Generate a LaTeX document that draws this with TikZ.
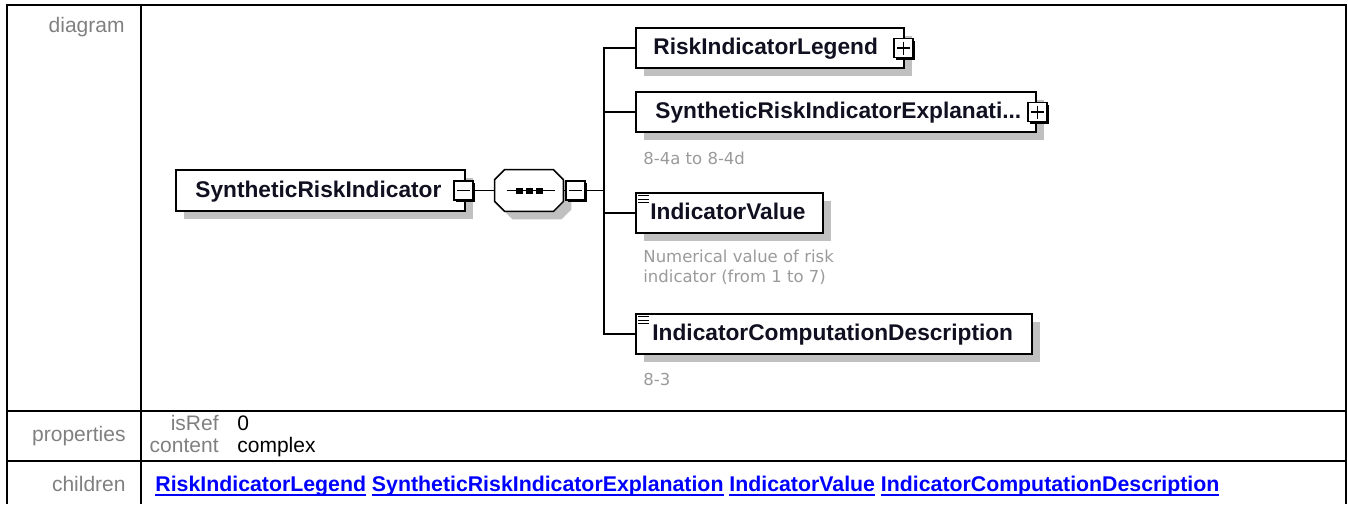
\documentclass[tikz,border=0pt]{standalone}
\usepackage{fontspec}
\setmainfont{Liberation Sans}
\newfontfamily\annfont{DejaVu Sans}
\usetikzlibrary{shadows,calc}
\definecolor{lblgray}{HTML}{808080}
\definecolor{anngray}{HTML}{9A9A9A}
\definecolor{shadowgray}{HTML}{C0C0C0}
\definecolor{linkblue}{HTML}{0000FF}
\definecolor{elemtext}{HTML}{101020}
\newcommand\mylink[1]{\setbox0\hbox{#1}\rlap{\color{linkblue}\vrule height -1.3pt depth 2.4pt width \wd0}\box0\relax}
\begin{document}
\begin{tikzpicture}[x=0.5pt,y=-0.5pt,
  elem/.style={draw=black, line width=0.75pt, fill=white, minimum height=20pt, inner sep=0, anchor=west,
    drop shadow={shadow xshift=4pt, shadow yshift=-4pt, fill=shadowgray, opacity=1}},
  etext/.style={font=\fontsize{11.35}{13}\selectfont\bfseries, text=elemtext, inner sep=0, anchor=base west},
  tog/.style={draw=black, line width=0.85pt, fill=white, minimum size=9.5pt, inner sep=0,
    drop shadow={shadow xshift=1.2pt, shadow yshift=-1.2pt, fill=black, opacity=1}},
  sign/.style={line width=0.9pt},
  conn/.style={line width=0.75pt},
  ann/.style={font=\annfont\fontsize{8.25}{10}\selectfont, text=anngray, inner sep=0, anchor=base west},
  lbl/.style={font=\fontsize{10.5}{12}\selectfont, text=lblgray, inner sep=0, anchor=base east},
  val/.style={font=\fontsize{10.5}{12}\selectfont, inner sep=0, anchor=base west},
  grid/.style={line width=1.1pt},
  icon/.style={line width=0.55pt}
]
\useasboundingbox (0,0) rectangle (1348,504);

% table
\draw[grid] (7,504) -- (7,5) -- (1346,5) -- (1346,504);
\draw[grid] (140.7,5) -- (140.7,504);
\draw[grid] (7,411) -- (1346,411);
\draw[grid] (7,461) -- (1346,461);

\node[lbl] (ldiag) at (125,32) {diagram};
\node[lbl] (lprop) at (126,441) {properties};
\node[lbl] (lchild) at (126,491) {children};

\node[lbl] (pisref) at (219,430) {isRef};
\node[lbl] (pcont) at (219,452) {content};
\node[val] (visref) at (237,430) {0};
\node[val] (vcont) at (237,452) {complex};

\node[font=\fontsize{10.65}{12}\selectfont\bfseries, text=linkblue, inner sep=0, anchor=base west] (links) at (155,491)
  {\mylink{RiskIndicatorLegend} \mylink{SyntheticRiskIndicatorExplanation} \mylink{IndicatorValue} \mylink{IndicatorComputationDescription}};

% main element
\node[elem, minimum width=144.5pt, minimum height=20.5pt] (main) at (175,190.5) {};
\node[etext] (maint) at (195,197) {SyntheticRiskIndicator};

% sequence compositor
\node[minimum width=34pt, minimum height=20.5pt, inner sep=0] (seq) at (529,190.5) {};
\fill[shadowgray] ($(seq.north west)+(18,8)$) -- ($(seq.north east)+(-2,8)$) -- ($(seq.north east)+(8,18)$)
  -- ($(seq.south east)+(8,-2)$) -- ($(seq.south east)+(-2,8)$) -- ($(seq.south west)+(18,8)$)
  -- ($(seq.south west)+(8,-2)$) -- ($(seq.north west)+(8,18)$) -- cycle;
\draw[line width=0.75pt, fill=white] ($(seq.north west)+(10,0)$) -- ($(seq.north east)+(-10,0)$) -- ($(seq.north east)+(0,10)$)
  -- ($(seq.south east)+(0,-10)$) -- ($(seq.south east)+(-10,0)$) -- ($(seq.south west)+(10,0)$)
  -- ($(seq.south west)+(0,-10)$) -- ($(seq.north west)+(0,10)$) -- cycle;
\draw[line width=0.75pt] ($(seq.west)+(12,0)$) -- ($(seq.east)+(-8,0)$);
\fill ($(seq.west)+(21,-3)$) rectangle ($(seq.west)+(28,3)$);
\fill ($(seq.west)+(31,-3)$) rectangle ($(seq.west)+(38,3)$);
\fill ($(seq.west)+(41,-3)$) rectangle ($(seq.west)+(48,3)$);

% children
\node[elem, minimum width=134pt] (c1) at (635,48) {};
\node[etext] (c1t) at (653,54.5) {RiskIndicatorLegend};
\node[elem, minimum width=200pt] (c2) at (635,112) {};
\node[etext] (c2t) at (655,118.5) {SyntheticRiskIndicatorExplanati...};
\node[elem, minimum width=93.5pt] (c3) at (635,213) {};
\node[etext] (c3t) at (650,219.5) {IndicatorValue};
\node[elem, minimum width=198pt] (c4) at (635,334) {};
\node[etext] (c4t) at (652,340.5) {IndicatorComputationDescription};

% simple-content icons
\foreach \n in {c3,c4}{
  \draw[icon] ($(\n.north west)+(3,3.5)$) -- ($(\n.north west)+(14,3.5)$);
  \draw[icon] ($(\n.north west)+(3,7)$) -- ($(\n.north west)+(14,7)$);
  \draw[icon] ($(\n.north west)+(3,10.5)$) -- ($(\n.north west)+(14,10.5)$);
}

% connectors
\coordinate (bus) at (604,190.5);
\node[tog] (mainsq) at ($(main.east)+(-2,0)$) {};
\node[tog] (seqsq) at ($(seq.east)+(12,0)$) {};
\draw[conn] (mainsq.east) -- (seq.west);
\draw[conn] (seq.east) -- (seqsq.west);
\draw[conn] (seqsq.east) -- (bus);
\draw[conn] (c1.west) -- (c1.west -| bus) -- (c4.west -| bus) -- (c4.west);
\draw[conn] (c2.west) -- (c2.west -| bus);
\draw[conn] (c3.west) -- (c3.west -| bus);

% toggles
\draw[sign] ($(mainsq.center)+(-6.5,0)$) -- ($(mainsq.center)+(6.5,0)$);
\draw[sign] ($(seqsq.center)+(-6.5,0)$) -- ($(seqsq.center)+(6.5,0)$);
\node[tog] (c1sq) at ($(c1.east)+(-1,0)$) {};
\draw[sign] ($(c1sq.center)+(-6.5,0)$) -- ($(c1sq.center)+(6.5,0)$);
\draw[sign] ($(c1sq.center)+(0,-6.5)$) -- ($(c1sq.center)+(0,6.5)$);
\node[tog] (c2sq) at ($(c2.east)+(1,0)$) {};
\draw[sign] ($(c2sq.center)+(-6.5,0)$) -- ($(c2sq.center)+(6.5,0)$);
\draw[sign] ($(c2sq.center)+(0,-6.5)$) -- ($(c2sq.center)+(0,6.5)$);

% annotations
\node[ann] (a2) at (643,164) {8-4a to 8-4d};
\node[ann] (a3a) at (643,262) {Numerical value of risk};
\node[ann] (a3b) at (643,282) {indicator (from 1 to 7)};
\node[ann] (a4) at (643,385) {8-3};
\end{tikzpicture}
\end{document}
